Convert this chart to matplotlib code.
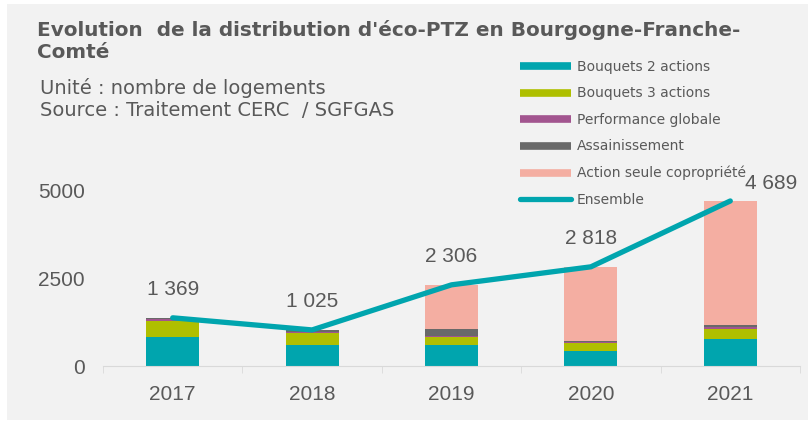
import matplotlib
matplotlib.use("Agg")
import matplotlib.pyplot as plt
from matplotlib.lines import Line2D
from matplotlib.patches import Rectangle
import numpy as np

plt.rcParams['font.family'] = ['Liberation Sans', 'DejaVu Sans']

years = ["2017", "2018", "2019", "2020", "2021"]
bouquets2 = [830, 600, 605, 430, 775]
bouquets3 = [450, 350, 230, 230, 275]
performance = [45, 30, 10, 20, 65]
assainissement = [30, 40, 210, 40, 45]
action_seule = [14, 5, 1251, 2098, 3529]
ensemble = [1369, 1025, 2306, 2818, 4689]
ensemble_labels = ["1 369", "1 025", "2 306", "2 818", "4 689"]
series_names = ["Bouquets 2 actions", "Bouquets 3 actions", "Performance globale",
                "Assainissement", "Action seule copropriété"]

colors = ["#00A5AE", "#AFBF00", "#A2558F", "#696969", "#F4AEA2"]
line_color = "#00A5AE"
text_color = "#595959"
wide = ['DejaVu Sans']

fig = plt.figure(figsize=(8.08, 4.24), dpi=100)
fig.patch.set_facecolor("white")
fig.add_artist(Rectangle((7/808, 1-420/424), 1-7/808, (420-4)/424, transform=fig.transFigure,
                         facecolor="#F2F2F2", edgecolor="none", zorder=0))

ax = fig.add_axes([103/808, 58/424, 697/808, 0.6226])
ax.set_facecolor("none")
x = np.arange(len(years))
bottom = np.zeros(len(years))
for vals, c in zip([bouquets2, bouquets3, performance, assainissement, action_seule], colors):
    ax.bar(x, vals, width=0.38, bottom=bottom, color=c, zorder=2)
    bottom += np.array(vals)

ax.plot(x, ensemble, color=line_color, lw=3.8, solid_capstyle="round", zorder=3)
offsets = [(0, 28), (0, 28), (0, 28), (0, 28), (41, 17)]
for xi, v, lab, off in zip(x, ensemble, ensemble_labels, offsets):
    ax.annotate(lab, (xi, v), xytext=off, textcoords="offset pixels",
                ha="center", va="center", fontsize=15, color=text_color)

ax.set_xlim(-0.5, 4.5)
ax.set_ylim(0, 7500)
ax.set_yticks([0, 2500, 5000])
ax.set_xticks(x)
ax.set_xticklabels(years)
ax.tick_params(axis="y", length=0, labelsize=15, labelcolor=text_color, pad=13)
ax.tick_params(axis="x", length=0, labelsize=15, labelcolor=text_color, pad=14)
ax.set_xticks(np.arange(-0.5, 5, 1), minor=True)
ax.tick_params(axis="x", which="minor", length=5, color="#D9D9D9", direction="out")
for s in ["top", "right", "left"]:
    ax.spines[s].set_visible(False)
ax.spines["bottom"].set_color("#D9D9D9")

fig.text(37/808, 1-30/424, "Evolution  de la distribution d'éco-PTZ en Bourgogne-Franche-",
         fontsize=14.4, fontweight="bold", color=text_color, va="center", ha="left", family=wide)
fig.text(37/808, 1-53/424, "Comté",
         fontsize=14.4, fontweight="bold", color=text_color, va="center", ha="left", family=wide)
fig.text(40/808, 1-88/424, "Unité : nombre de logements",
         fontsize=14, color=text_color, va="center", ha="left", family=wide)
fig.text(40/808, 1-110/424, "Source : Traitement CERC  / SGFGAS",
         fontsize=14, color=text_color, va="center", ha="left", family=wide)

handles = [Line2D([0], [0], color=c, lw=5.5, solid_capstyle="butt") for c in colors]
handles.append(Line2D([0], [0], color=line_color, lw=3.8, solid_capstyle="round"))
leg = ax.legend(handles, series_names + ["Ensemble"], loc="upper left",
                bbox_to_anchor=(520/808, 1-60/424), bbox_transform=fig.transFigure,
                frameon=False, prop={'family': wide, 'size': 10}, handlelength=3.7,
                handletextpad=0.4, labelspacing=0.9, borderaxespad=0, borderpad=0)
for t in leg.get_texts():
    t.set_color(text_color)

fig.savefig("out.png", dpi=100, facecolor="white")
